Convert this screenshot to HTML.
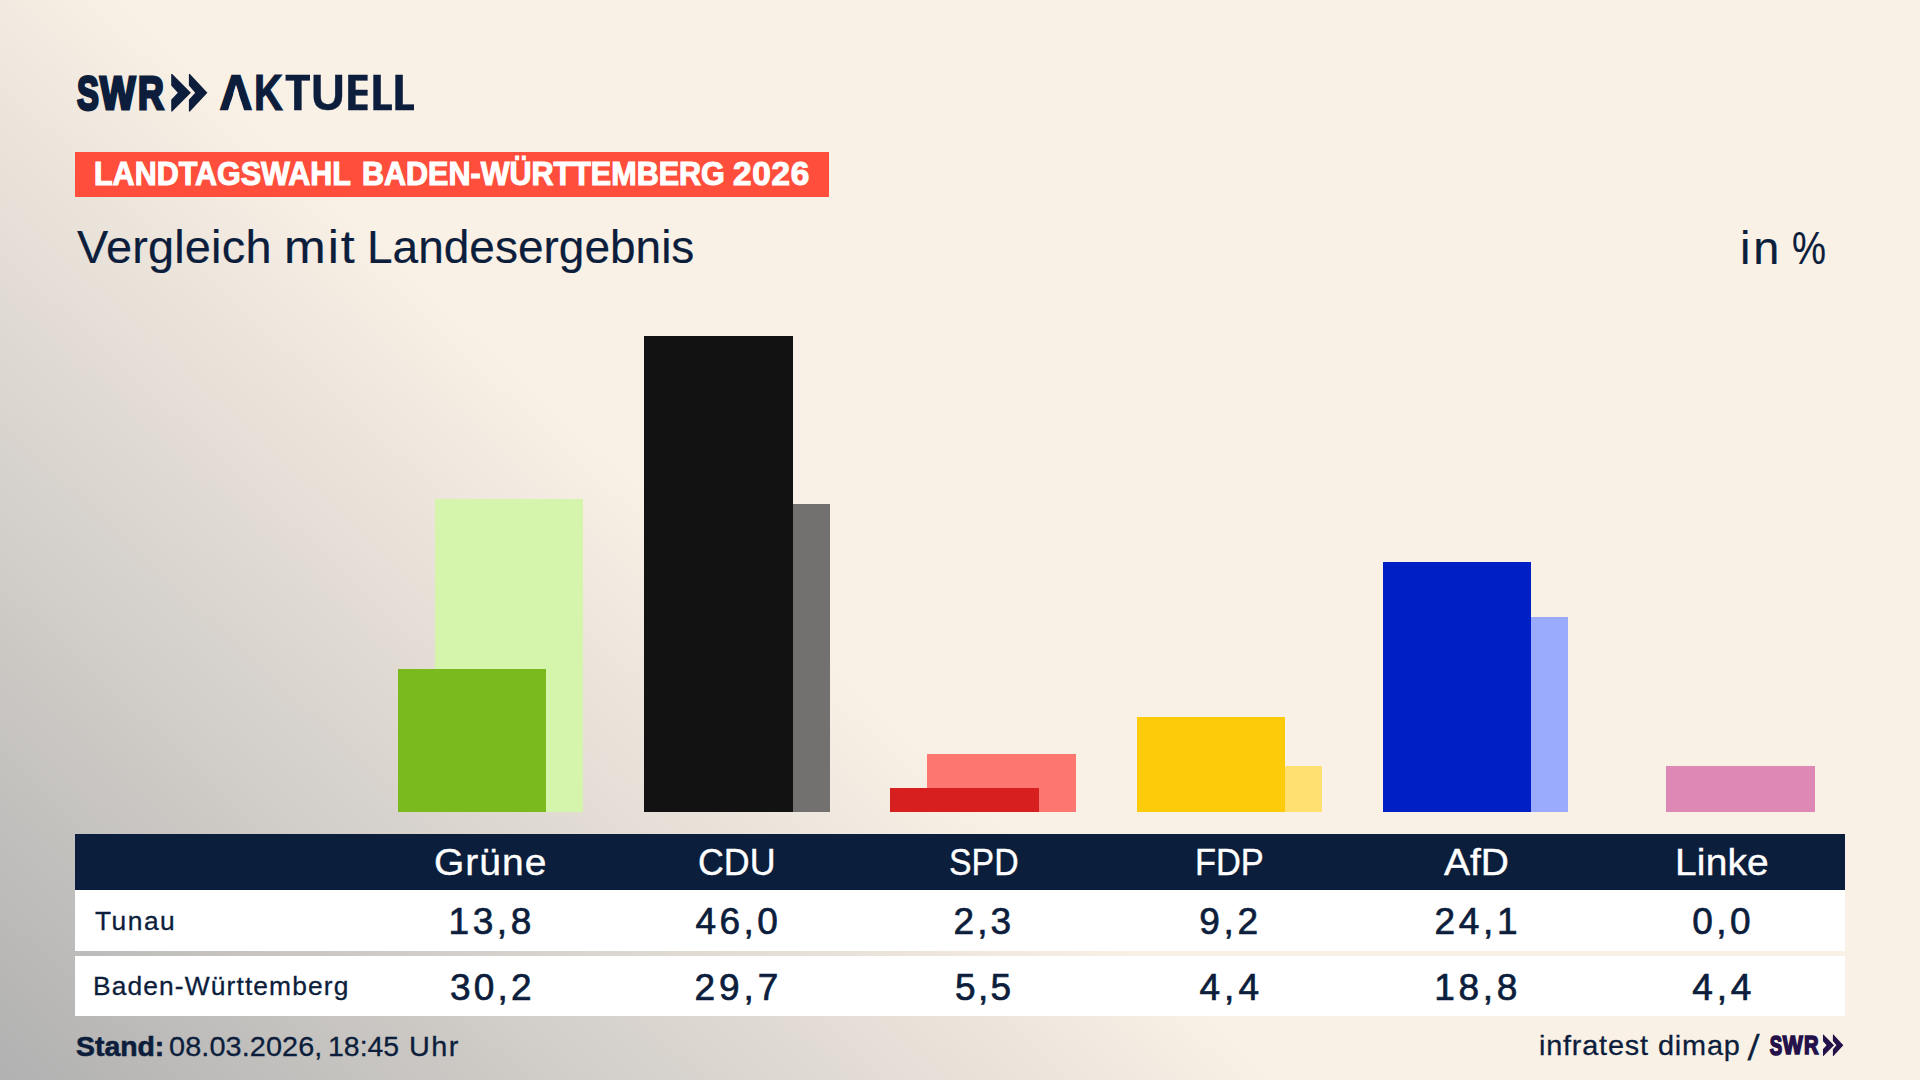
<!DOCTYPE html>
<html lang="de">
<head>
<meta charset="utf-8">
<title>Landtagswahl Baden-Württemberg 2026 – Vergleich mit Landesergebnis</title>
<style>
html,body{margin:0;padding:0;}
body{width:1920px;height:1080px;overflow:hidden;position:relative;
  font-family:"Liberation Sans",sans-serif;color:#0c1e3c;
  background:linear-gradient(43deg,#b1b1b1 0%,#faf1e6 42%,#faf1e6 100%);}
.bar{position:absolute;}
.t,.lg{position:absolute;left:0;top:0;margin:0;font-weight:normal;font-size:0;line-height:0;white-space:nowrap;}
.lg{font-weight:bold;}
.t span,.lg span{display:inline-block;position:relative;width:0;vertical-align:top;white-space:nowrap;line-height:1;transform-origin:0 0;}
#ban span{font-size:32.3px;}
#ttl span,#pct span{font-size:45.5px;}
#ph span{font-size:37.8px;}
#rl span{font-size:25.6px;}
#v1 span,#v2 span{font-size:37px;}
#std span,#src span{font-size:28px;}
.logo{position:absolute;left:0;top:0;transform-origin:0 0;fill:#0c1e3c;color:#0c1e3c;}
.logo.small{transform:translate(1726.15px,992.85px) scale(0.565);fill:#24114a;color:#24114a;}
.row{position:absolute;left:75px;width:1770px;}
.hd{background:#0b1e3c;top:834px;height:56px;}
.r1{background:#fff;top:890px;height:60.7px;}
.r2{background:#fff;top:955.7px;height:60px;}
.w{color:#fff;}
#std b span{-webkit-text-stroke:0.6px #0c1e3c;}
#v1,#v2{-webkit-text-stroke:0.7px #0c1e3c;}
#ph{-webkit-text-stroke:0.4px #fff;}
#ban{-webkit-text-stroke:1.1px #fff;}
#rl,#std,#src{-webkit-text-stroke:0.3px #0c1e3c;}
#ttl,#pct{-webkit-text-stroke:0.2px #0c1e3c;}
</style>
</head>
<body>

<!-- logo -->
<div class="logo">
<div class="lg"><span style="font-size:48.6px;-webkit-text-stroke:3.0px #0c1e3c;top:69px;left:77.06px;transform:scaleX(0.676);">S</span><span style="font-size:45.9px;-webkit-text-stroke:3.0px #0c1e3c;top:71px;left:100.22px;transform:scaleX(0.816);">W</span><span style="font-size:45.9px;-webkit-text-stroke:3.0px #0c1e3c;top:71px;left:137.88px;transform:scaleX(0.777);">R</span></div>
<svg class="bar" style="left:171px;top:73px" width="38" height="40" viewBox="171 73 38 40">
  <path d="M171.2 73.9 L172.2 73.9 L190.9 92.7 L172.2 111.6 L171.2 111.6 L171.2 99.7 L177.8 92.7 L171.2 85.4 Z"/>
  <path d="M188.9 73.9 L189.9 73.9 L207.4 92.7 L189.9 111.6 L188.9 111.6 L188.9 99.7 L195.2 92.7 L188.9 85.4 Z"/>
</svg>
</div>
<div class="lg" id="akt"><span style="font-size:47.4px;-webkit-text-stroke:2.3px #0c1e3c;top:69px;left:220.18px;transform:scaleX(0.930);clip-path:polygon(-4px -4px,60px -4px,60px 44.62px,26.98px 44.62px,17.31px 16.49px,7.64px 44.62px,-4px 44.62px);">A</span><span style="font-size:49.2px;-webkit-text-stroke:1.2px #0c1e3c;top:68px;left:253.92px;transform:scaleX(0.810);">K</span><span style="font-size:49.3px;-webkit-text-stroke:0.4px #0c1e3c;top:68px;left:282.76px;clip-path:inset(-5px -27.24px -5px 2.84px);">T</span><span style="font-size:49.3px;-webkit-text-stroke:0.4px #0c1e3c;top:68px;left:310.92px;transform:scaleX(0.951);">U</span><span style="font-size:49.3px;-webkit-text-stroke:0.4px #0c1e3c;top:68px;left:344.95px;clip-path:inset(-5px -22.65px -5px -5px);">E</span><span style="font-size:49.3px;-webkit-text-stroke:0.4px #0c1e3c;top:68px;left:370.15px;clip-path:inset(-5px -21.75px -5px -5px);">L</span><span style="font-size:49.3px;-webkit-text-stroke:0.4px #0c1e3c;top:68px;left:392.25px;clip-path:inset(-5px -21.75px -5px -5px);">L</span></div>

<!-- banner -->
<div class="bar" style="left:75px;top:152px;width:754px;height:44.5px;background:#ff4e3b;"></div>
<h1 class="t w" id="ban" style="font-weight:bold;"><span style="left:94.0px;top:158.4px;transform:scaleX(0.944);">LANDTAGSWAHL</span> <span style="left:361.7px;top:158.4px;transform:scaleX(0.945);">BADEN-WÜRTTEMBERG</span> <span style="left:733.2px;top:158.4px;letter-spacing:0.69px;transform:scaleX(1.030);">2026</span></h1>

<!-- title -->
<h2 class="t" id="ttl"><span style="left:76.5px;top:224.8px;letter-spacing:0.20px;transform:scaleX(1.030);">Vergleich</span> <span style="left:284.3px;top:224.8px;letter-spacing:1.84px;transform:scaleX(1.100);">mit</span> <span style="left:367.2px;top:224.8px;transform:scaleX(1.011);">Landesergebnis</span></h2>
<div class="t" id="pct"><span style="left:1739.9px;top:225.8px;letter-spacing:2.73px;transform:scaleX(1.030);">in</span> <span style="left:1791.5px;top:225.8px;transform:scaleX(0.840);">%</span></div>

<!-- bars: back = Land, front = Gemeinde -->
<div class="bar" style="left:435px;top:499px;width:148px;height:313px;background:#d5f5ad;"></div>
<div class="bar" style="left:398px;top:669px;width:148px;height:143px;background:#7aba1e;"></div>

<div class="bar" style="left:681px;top:504px;width:149px;height:308px;background:#727170;"></div>
<div class="bar" style="left:644px;top:336px;width:149px;height:476px;background:#121212;"></div>

<div class="bar" style="left:927px;top:754px;width:149px;height:58px;background:#fd7770;"></div>
<div class="bar" style="left:890px;top:788px;width:149px;height:24px;background:#d71f1f;"></div>

<div class="bar" style="left:1174px;top:766px;width:148px;height:46px;background:#ffe070;"></div>
<div class="bar" style="left:1137px;top:717px;width:148px;height:95px;background:#fecb0b;"></div>

<div class="bar" style="left:1420px;top:617px;width:148px;height:195px;background:#9aabfd;"></div>
<div class="bar" style="left:1383px;top:562px;width:148px;height:250px;background:#0020c6;"></div>

<div class="bar" style="left:1666px;top:766px;width:149px;height:46px;background:#dd88b5;"></div>

<!-- table -->
<div class="row hd"></div>
<div class="row r1"></div>
<div class="row r2"></div>

<div class="t w" id="ph"><span style="left:434.2px;top:844.0px;letter-spacing:1.02px;transform:scaleX(1.030);">Grüne</span> <span style="left:697.6px;top:844.0px;transform:scaleX(0.947);">CDU</span> <span style="left:948.7px;top:844.0px;transform:scaleX(0.895);">SPD</span> <span style="left:1194.6px;top:844.0px;transform:scaleX(0.910);">FDP</span> <span style="left:1443.6px;top:844.0px;letter-spacing:0.03px;transform:scaleX(1.030);">AfD</span> <span style="left:1674.6px;top:844.0px;letter-spacing:0.16px;transform:scaleX(1.030);">Linke</span></div>
<div class="t" id="rl"><span style="left:94.5px;top:908.5px;letter-spacing:1.44px;transform:scaleX(1.030);">Tunau</span> <span style="left:92.9px;top:974.1px;letter-spacing:1.09px;transform:scaleX(1.030);">Baden-Württemberg</span></div>
<div class="t" id="v1"><span style="left:448.5px;top:903.4px;letter-spacing:3.58px;">13,8</span> <span style="left:695.5px;top:903.4px;letter-spacing:3.40px;">46,0</span> <span style="left:953.5px;top:903.4px;letter-spacing:3.12px;">2,3</span> <span style="left:1199.2px;top:903.4px;letter-spacing:3.75px;">9,2</span> <span style="left:1434.5px;top:903.4px;letter-spacing:3.67px;">24,1</span> <span style="left:1692.3px;top:903.4px;letter-spacing:3.38px;">0,0</span></div>
<div class="t" id="v2"><span style="left:450.0px;top:969.4px;letter-spacing:3.17px;">30,2</span> <span style="left:694.5px;top:969.4px;letter-spacing:3.90px;">29,7</span> <span style="left:955.0px;top:969.4px;letter-spacing:2.38px;">5,5</span> <span style="left:1199.5px;top:969.4px;letter-spacing:4.02px;">4,4</span> <span style="left:1434.2px;top:969.4px;letter-spacing:3.68px;">18,8</span> <span style="left:1692.2px;top:969.4px;letter-spacing:3.88px;">4,4</span></div>

<!-- footer -->
<div class="t" id="std"><b><span style="left:75.6px;top:1032.8px;transform:scaleX(1.014);">Stand:</span></b> <span style="left:169.3px;top:1032.8px;letter-spacing:0.10px;transform:scaleX(1.030);">08.03.2026,</span> <span style="left:328.4px;top:1032.8px;transform:scaleX(1.016);">18:45</span> <span style="left:408.8px;top:1032.8px;letter-spacing:1.44px;transform:scaleX(1.030);">Uhr</span></div>
<div class="t" id="src"><span style="left:1538.6px;top:1032.2px;letter-spacing:0.78px;transform:scaleX(1.030);">infratest</span> <span style="left:1657.5px;top:1032.2px;letter-spacing:0.78px;transform:scaleX(1.030);">dimap</span> <span style="font-size:36px;left:1746.5px;top:1029.8px;transform-origin:0 100%;transform:skewX(-4.7deg);">/</span></div>
<div class="logo small">
<div class="lg"><span style="font-size:48.6px;-webkit-text-stroke:3.0px #24114a;top:69px;left:77.06px;transform:scaleX(0.676);">S</span><span style="font-size:45.9px;-webkit-text-stroke:3.0px #24114a;top:71px;left:100.22px;transform:scaleX(0.816);">W</span><span style="font-size:45.9px;-webkit-text-stroke:3.0px #24114a;top:71px;left:137.88px;transform:scaleX(0.777);">R</span></div>
<svg class="bar" style="left:171px;top:73px" width="38" height="40" viewBox="171 73 38 40">
  <path d="M171.2 73.9 L172.2 73.9 L190.9 92.7 L172.2 111.6 L171.2 111.6 L171.2 99.7 L177.8 92.7 L171.2 85.4 Z"/>
  <path d="M188.9 73.9 L189.9 73.9 L207.4 92.7 L189.9 111.6 L188.9 111.6 L188.9 99.7 L195.2 92.7 L188.9 85.4 Z"/>
</svg>
</div>

</body>
</html>
